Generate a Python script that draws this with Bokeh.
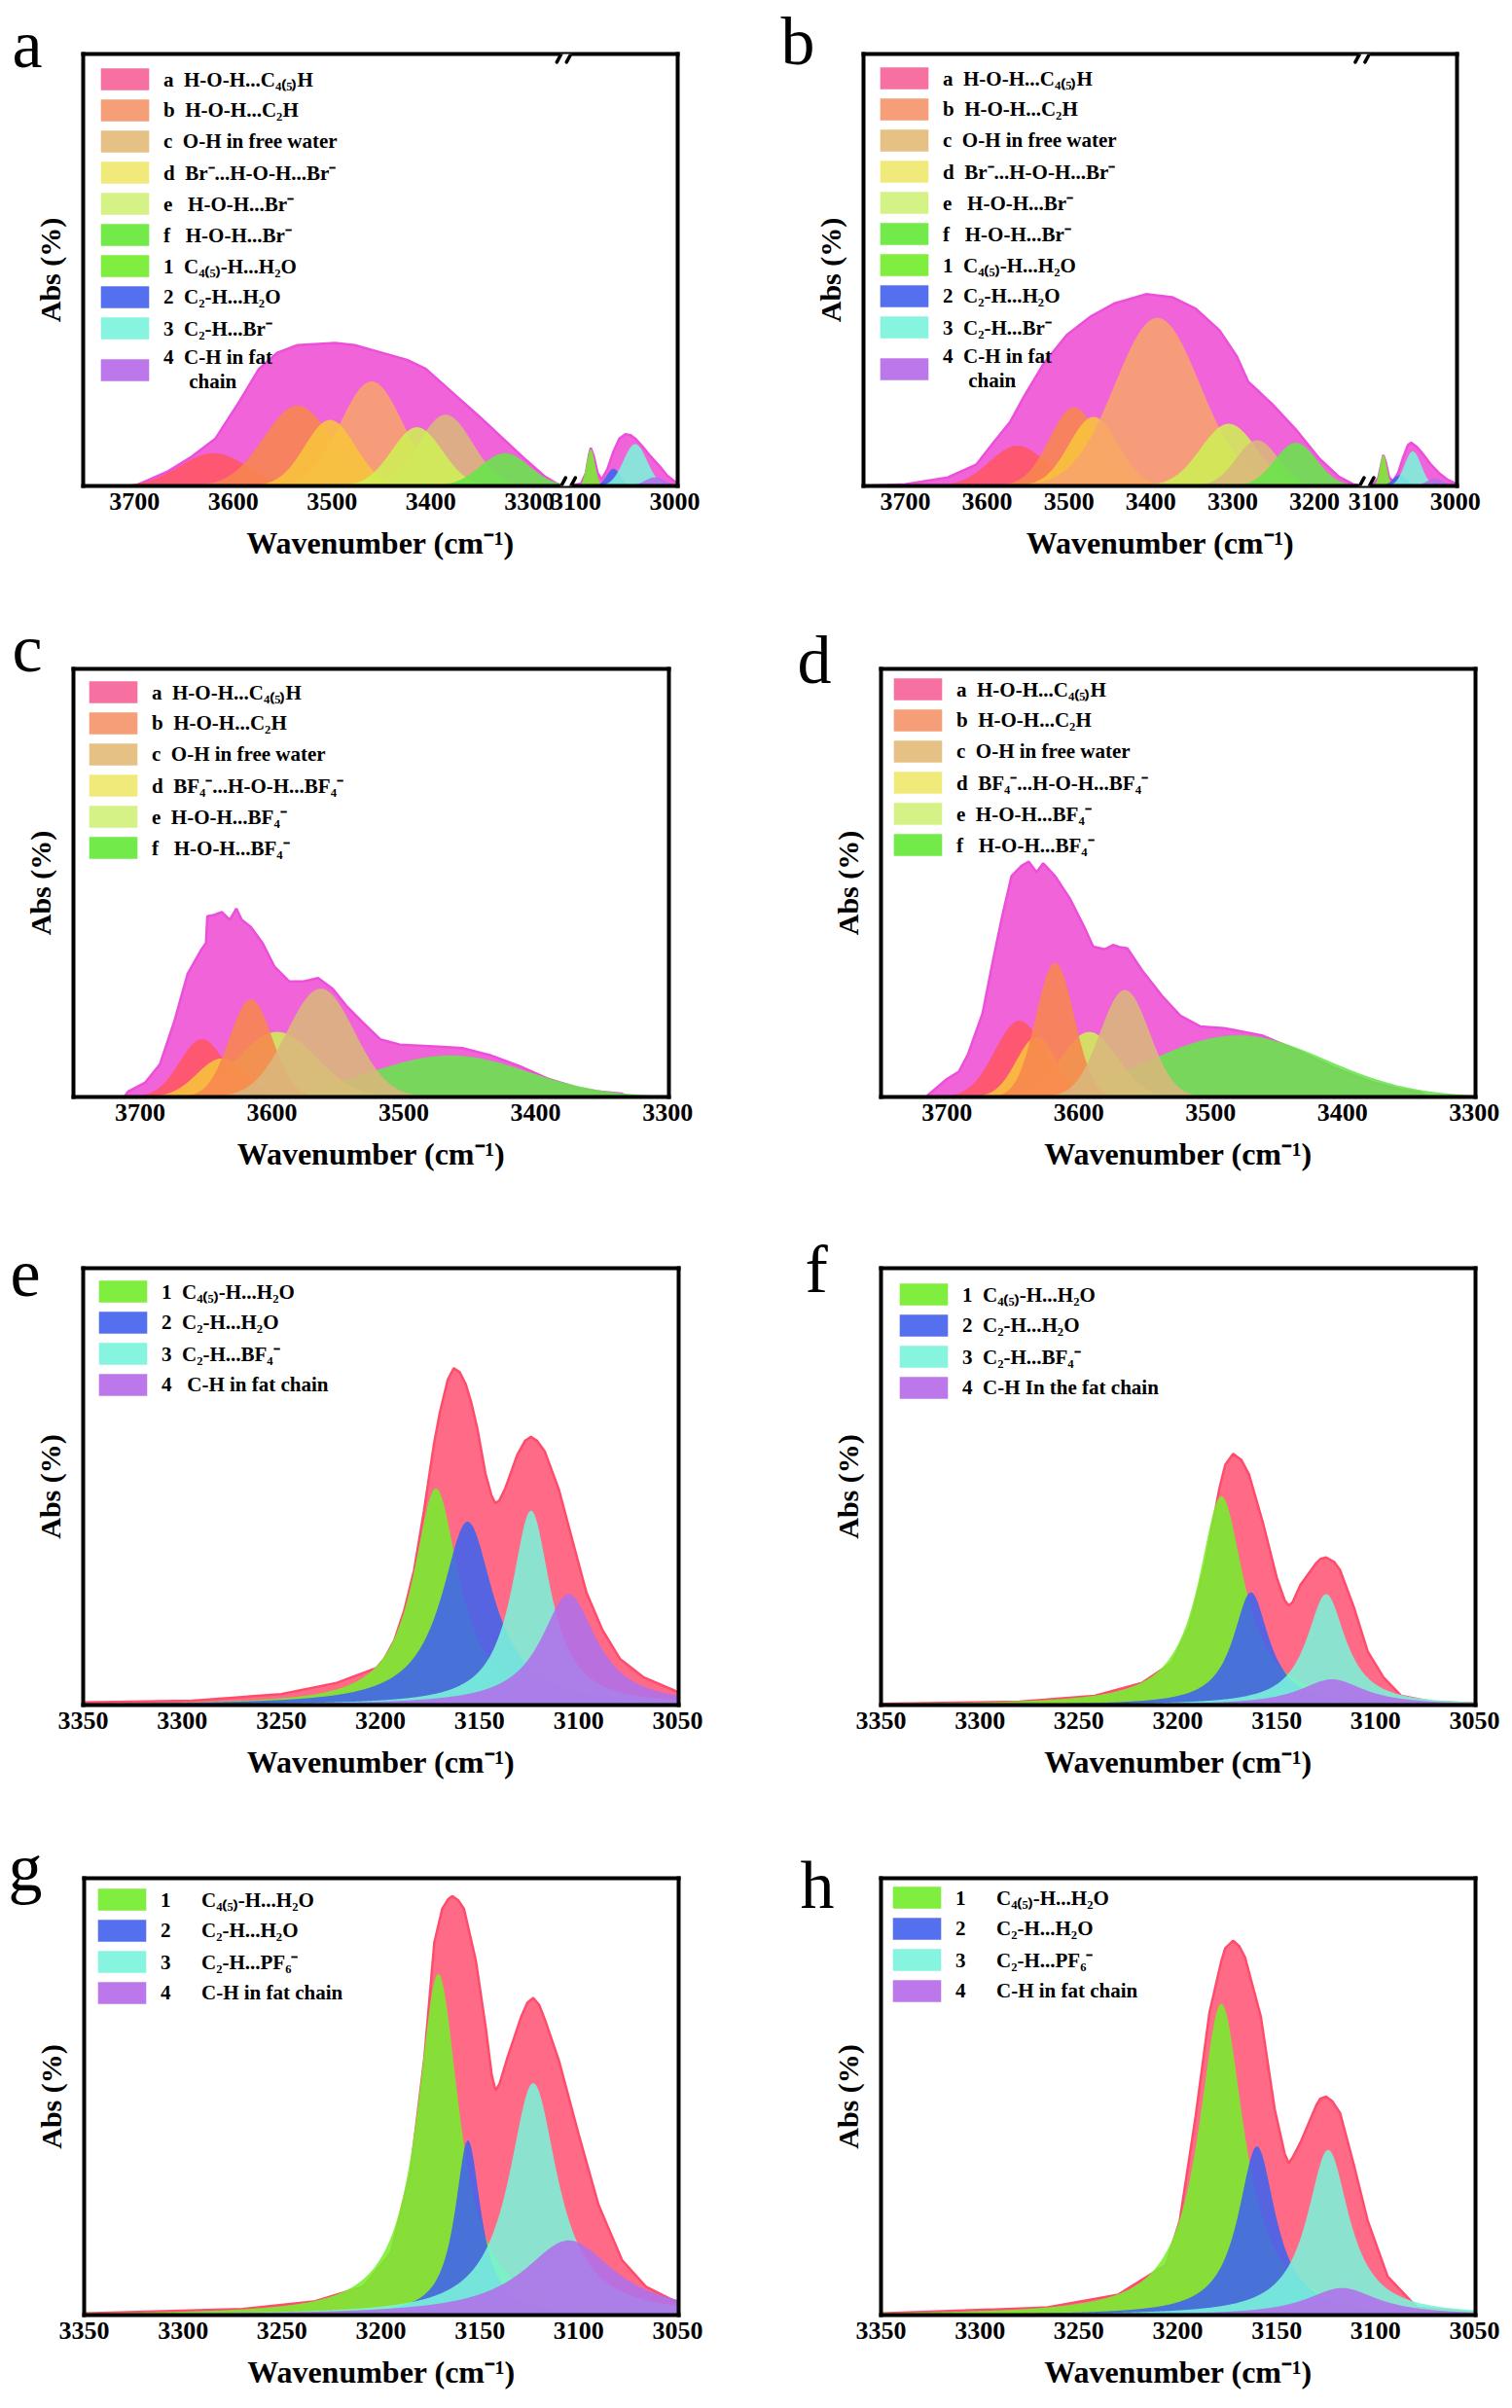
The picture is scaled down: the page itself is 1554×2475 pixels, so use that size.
import math
import numpy as np
from bokeh.plotting import figure
from bokeh.models import Range1d, FixedTicker, LinearAxis, Legend, LegendItem, Arrow
from bokeh.layouts import column, row
from bokeh.embed import file_html
from bokeh.resources import INLINE

# ======================= DATA =======================
# Heights are fractions of the plot height (Abs, arbitrary units).

# ---- panel a (broken axis 3752-3263 | 3110-2997) ----
A_ENV_W = [3752, 3700, 3690, 3666, 3642, 3618, 3594, 3574, 3555, 3535, 3497, 3477, 3458,
           3424, 3405, 3376, 3351, 3327, 3303, 3284, 3271, 3263]
A_ENV_Y = [0.0, 0.0, 0.01, 0.034, 0.068, 0.110, 0.195, 0.271, 0.309, 0.326, 0.331, 0.326,
           0.314, 0.292, 0.271, 0.212, 0.161, 0.110, 0.059, 0.021, 0.004, 0.0]
A_ENV2_W = [3110, 3095, 3090, 3087, 3085, 3082, 3078, 3074, 3068, 3062, 3056, 3050, 3045,
            3040, 3032, 3025, 3015, 3008, 2997]
A_ENV2_Y = [0.0, 0.005, 0.03, 0.07, 0.088, 0.07, 0.03, 0.015, 0.04, 0.08, 0.11, 0.12, 0.118,
            0.11, 0.09, 0.07, 0.045, 0.025, 0.005]
A_PEAK_HUE = ["red", "orange", "peach", "gold", "tan", "lime", "green", "g1", "blue", "aqua", "violet"]
A_PEAK_CENTER = [3620, 3535, 3460, 3502, 3385, 3414, 3325, 3085, 3062, 3040, 3020]
A_PEAK_HEIGHT = [0.076, 0.186, 0.242, 0.153, 0.165, 0.136, 0.076, 0.085, 0.04, 0.097, 0.02]
A_PEAK_HWHM = [40, 40, 37, 30, 32, 30, 29, 5, 8, 14, 12]

# ---- panel b (broken axis 3751-3139 | 3111-2998) ----
B_ENV_W = [3751, 3700, 3648, 3613, 3590, 3572, 3555, 3531, 3502, 3473, 3444, 3406, 3374,
           3345, 3316, 3295, 3281, 3266, 3252, 3223, 3194, 3170, 3153, 3139]
B_ENV_Y = [0.0, 0.004, 0.02, 0.05, 0.106, 0.148, 0.207, 0.283, 0.351, 0.393, 0.423, 0.444,
           0.437, 0.41, 0.36, 0.30, 0.241, 0.215, 0.19, 0.131, 0.063, 0.021, 0.004, 0.0]
B_ENV2_W = [3111, 3100, 3094, 3090, 3088, 3085, 3081, 3076, 3070, 3064, 3058, 3054, 3048,
            3040, 3030, 3020, 3010, 2998]
B_ENV2_Y = [0.0, 0.004, 0.02, 0.055, 0.072, 0.055, 0.02, 0.012, 0.03, 0.065, 0.095, 0.10,
            0.092, 0.075, 0.05, 0.03, 0.015, 0.004]
B_PEAK_HUE = ["red", "orange", "gold", "peach", "lime", "tan", "green", "g1", "blue", "aqua", "violet"]
B_PEAK_CENTER = [3563, 3494, 3470, 3392, 3305, 3270, 3223, 3088, 3068, 3052, 3025]
B_PEAK_HEIGHT = [0.093, 0.182, 0.16, 0.389, 0.144, 0.106, 0.10, 0.072, 0.025, 0.08, 0.017]
B_PEAK_HWHM = [40, 35, 35, 61, 40, 30, 30, 5, 10, 12, 12]

# ---- panel c ----
C_ENV_W = [3712, 3709, 3696, 3685, 3674, 3664, 3654, 3650, 3649, 3644, 3638, 3632, 3627,
           3623, 3616, 3607, 3598, 3587, 3576, 3565, 3554, 3543, 3532, 3518, 3503, 3477,
           3455, 3434, 3412, 3390, 3368, 3353, 3335, 3330]
C_ENV_Y = [0.0, 0.013, 0.034, 0.076, 0.177, 0.287, 0.342, 0.36, 0.422, 0.425, 0.432, 0.414,
           0.44, 0.414, 0.397, 0.359, 0.304, 0.27, 0.27, 0.278, 0.253, 0.211, 0.177, 0.135,
           0.122, 0.118, 0.114, 0.097, 0.072, 0.042, 0.021, 0.013, 0.008, 0.0]
C_PEAK_HUE = ["green", "lime", "red", "gold", "orange", "tan"]
C_PEAK_CENTER = [3465, 3596, 3653, 3638, 3616, 3563]
C_PEAK_HEIGHT = [0.097, 0.152, 0.135, 0.09, 0.228, 0.253]
C_PEAK_HWHM = [70, 35, 20, 22, 19, 30]

# ---- panel d ----
D_ENV_W = [3716, 3713, 3700, 3691, 3684, 3673, 3665, 3658, 3651, 3643, 3638, 3632, 3627,
           3618, 3607, 3596, 3589, 3580, 3574, 3569, 3563, 3552, 3537, 3523, 3508, 3490,
           3461, 3435, 3406, 3377, 3355, 3340, 3336]
D_ENV_Y = [0.0, 0.008, 0.042, 0.059, 0.10, 0.195, 0.32, 0.423, 0.516, 0.541, 0.55, 0.525,
           0.546, 0.516, 0.465, 0.398, 0.351, 0.345, 0.355, 0.35, 0.347, 0.296, 0.237, 0.19,
           0.165, 0.161, 0.144, 0.11, 0.068, 0.034, 0.017, 0.01, 0.0]
D_PEAK_HUE = ["green", "lime", "red", "gold", "orange", "tan"]
D_PEAK_CENTER = [3479, 3592, 3645, 3632, 3618, 3565]
D_PEAK_HEIGHT = [0.144, 0.152, 0.178, 0.14, 0.313, 0.25]
D_PEAK_HWHM = [78, 25, 22, 18, 17, 22]

# ---- panel e ----
E_ENV_W = [3350, 3295, 3250, 3222, 3202, 3198, 3193, 3188, 3183, 3178, 3173, 3170, 3166,
           3163, 3160, 3157, 3154, 3151, 3147, 3144, 3142, 3140, 3137, 3131, 3127, 3124,
           3121, 3117, 3110, 3103, 3096, 3088, 3079, 3067, 3052, 3050]
E_ENV_Y = [0.006, 0.01, 0.025, 0.051, 0.085, 0.106, 0.148, 0.216, 0.309, 0.445, 0.597, 0.67,
           0.745, 0.771, 0.762, 0.735, 0.69, 0.631, 0.53, 0.48, 0.462, 0.468, 0.496, 0.572,
           0.605, 0.614, 0.605, 0.58, 0.494, 0.375, 0.257, 0.172, 0.105, 0.063, 0.034, 0.03]
E_PEAK_HUE = ["g1", "blue", "aqua", "violet"]
E_PEAK_CENTER = [3172, 3156, 3124, 3105]
E_PEAK_HEIGHT = [0.496, 0.42, 0.445, 0.254]
E_PEAK_HWHM = [14, 16, 12, 17]

# ---- panel f ----
F_ENV_W = [3350, 3280, 3242, 3218, 3203, 3194, 3186, 3179, 3176, 3172, 3168, 3164, 3157,
           3150, 3146, 3144, 3142, 3138, 3130, 3128, 3125, 3121, 3118, 3111, 3104, 3096,
           3087, 3072, 3050]
F_ENV_Y = [0.003, 0.008, 0.021, 0.051, 0.097, 0.182, 0.325, 0.495, 0.55, 0.575, 0.562, 0.528,
           0.418, 0.292, 0.24, 0.228, 0.235, 0.275, 0.325, 0.334, 0.338, 0.328, 0.309, 0.224,
           0.123, 0.063, 0.021, 0.008, 0.004]
F_PEAK_HUE = ["g1", "blue", "aqua", "violet"]
F_PEAK_CENTER = [3178, 3163, 3125, 3122]
F_PEAK_HEIGHT = [0.478, 0.258, 0.254, 0.059]
F_PEAK_HWHM = [14, 11, 12, 20]

# ---- panel g ----
G_ENV_W = [3350, 3270, 3234, 3209, 3195, 3185, 3178, 3173, 3169, 3166, 3164, 3161, 3158,
           3152, 3147, 3144, 3142, 3140, 3136, 3129, 3126, 3123, 3120, 3117, 3110, 3100,
           3090, 3078, 3066, 3051, 3050]
G_ENV_Y = [0.004, 0.014, 0.031, 0.065, 0.142, 0.328, 0.59, 0.853, 0.93, 0.952, 0.959, 0.95,
           0.93, 0.811, 0.658, 0.55, 0.514, 0.53, 0.59, 0.684, 0.715, 0.726, 0.71, 0.675,
           0.582, 0.413, 0.252, 0.125, 0.065, 0.031, 0.03]
G_PEAK_HUE = ["g1", "blue", "aqua", "violet"]
G_PEAK_CENTER = [3171, 3156, 3123, 3105]
G_PEAK_HEIGHT = [0.781, 0.40, 0.531, 0.171]
G_PEAK_HWHM = [13, 8, 15, 28]

# ---- panel h ----
H_ENV_W = [3350, 3267, 3230, 3206, 3199, 3191, 3184, 3178, 3176, 3172, 3169, 3166, 3158,
           3151, 3146, 3144, 3142, 3138, 3130, 3128, 3125, 3122, 3118, 3111, 3104, 3094,
           3079, 3050]
H_ENV_Y = [0.004, 0.017, 0.047, 0.115, 0.216, 0.454, 0.692, 0.81, 0.84, 0.857, 0.845, 0.819,
           0.683, 0.471, 0.37, 0.348, 0.36, 0.395, 0.48, 0.495, 0.50, 0.49, 0.463, 0.344,
           0.216, 0.089, 0.017, 0.006]
H_PEAK_HUE = ["g1", "blue", "aqua", "violet"]
H_PEAK_CENTER = [3178, 3160, 3124, 3117]
H_PEAK_HEIGHT = [0.713, 0.386, 0.378, 0.062]
H_PEAK_HWHM = [14, 11.5, 13, 22]

# ---- tick labels ----
TICKS_A = [3700, 3600, 3500, 3400, 3300, 3100, 3000]
TICKS_B = [3700, 3600, 3500, 3400, 3300, 3200, 3100, 3000]
TICKS_CD = [3700, 3600, 3500, 3400, 3300]
TICKS_EH = [3350, 3300, 3250, 3200, 3150, 3100, 3050]

# ---- legend entries ----
LEG_KEYS_AB = ["a", "b", "c", "d", "e", "f", "1", "2", "3", "4"]
LEG_TEXT_AB = ["a  H-O-H...C₄₍₅₎H", "b  H-O-H...C₂H", "c  O-H in free water",
               "d  Br⁻...H-O-H...Br⁻", "e   H-O-H...Br⁻", "f   H-O-H...Br⁻",
               "1  C₄₍₅₎-H...H₂O", "2  C₂-H...H₂O", "3  C₂-H...Br⁻", "4  C-H in fat\n     chain"]
LEG_KEYS_CD = ["a", "b", "c", "d", "e", "f"]
LEG_TEXT_CD = ["a  H-O-H...C₄₍₅₎H", "b  H-O-H...C₂H", "c  O-H in free water",
               "d  BF₄⁻...H-O-H...BF₄⁻", "e  H-O-H...BF₄⁻", "f   H-O-H...BF₄⁻"]
LEG_KEYS_EH = ["1", "2", "3", "4"]
LEG_TEXT_E = ["1  C₄₍₅₎-H...H₂O", "2  C₂-H...H₂O", "3  C₂-H...BF₄⁻", "4   C-H in fat chain"]
LEG_TEXT_F = ["1  C₄₍₅₎-H...H₂O", "2  C₂-H...H₂O", "3  C₂-H...BF₄⁻", "4  C-H In the fat chain"]
LEG_TEXT_GH = ["1      C₄₍₅₎-H...H₂O", "2      C₂-H...H₂O", "3      C₂-H...PF₆⁻",
               "4      C-H in fat chain"]

# ======================= STYLE / LAYOUT =======================
SERIF = "Liberation Serif"
HUE = {"red": "#FF5562", "orange": "#F7864E", "peach": "#F7A46C", "gold": "#F8C43C",
       "tan": "#D9B77C", "lime": "#CFEF55", "green": "#66E64A", "g1": "#77EE2E",
       "blue": "#3F63EE", "aqua": "#7BF4DA", "violet": "#B070EA"}
LEG_COLOR = {"a": "#F770A2", "b": "#F59E78", "c": "#E6C186", "d": "#F0EA7A", "e": "#D4F286",
             "f": "#72EA4A", "1": "#80EE3E", "2": "#5470EE", "3": "#86F4DE", "4": "#BC78EA"}
ENV_MAG = ("#F163D8", "#EC4FDA")
ENV_RED = ("#FF6B86", "#FF4C6C")

# fig box (left, right, top, bottom) and frame box in page pixels
LAYOUT = {
    "a": dict(fig=(0, 777, 0, 618), frame=(85, 696, 50, 499), letter=(12, 63), lm=12),
    "b": dict(fig=(777, 1554, 0, 618), frame=(887, 1497, 55, 505), letter=(802, 65), lm=11),
    "c": dict(fig=(0, 777, 618, 1245), frame=(75, 687, 687, 1138), letter=(12, 689), lm=10),
    "d": dict(fig=(777, 1554, 618, 1245), frame=(905, 1516, 676, 1127), letter=(819, 690), lm=7),
    "e": dict(fig=(0, 777, 1245, 1866), frame=(85, 697, 1303, 1752), letter=(10, 1316), lm=10),
    "f": dict(fig=(777, 1554, 1245, 1866), frame=(905, 1516, 1302, 1752), letter=(827, 1326), lm=13),
    "g": dict(fig=(0, 777, 1866, 2475), frame=(86, 697, 1930, 2379), letter=(8, 1942), lm=8),
    "h": dict(fig=(777, 1554, 1866, 2475), frame=(905, 1516, 1930, 2379), letter=(822, 1960), lm=6),
}
AXIS = {
    "a": dict(x0=3752, x1=2997, brk=(3263, 3110)),
    "b": dict(x0=3751, x1=2998, brk=(3139, 3111)),
    "c": dict(x0=3750.5, x1=3299, brk=None),
    "d": dict(x0=3750, x1=3299, brk=None),
    "e": dict(x0=3350, x1=3049.5, brk=None),
    "f": dict(x0=3350, x1=3049.5, brk=None),
    "g": dict(x0=3350, x1=3049.5, brk=None),
    "h": dict(x0=3350, x1=3049.5, brk=None),
}
LETTER_SIZE = 70
LETTER_DESCENT = 0.216

LN2 = math.log(2.0)


def peak_curve(w, c, h, hw, shape):
    if shape == "gauss":
        return h * np.exp(-LN2 * ((w - c) / hw) ** 2)
    return h / (1.0 + ((w - c) / hw) ** 2)


def build(key, env_segs, hues, centers, heights, hwhms, shape, ticks, leg_keys, leg_texts, env_style):
    L = LAYOUT[key]
    A = AXIS[key]
    gl, gr, gt, gb = L["fig"]
    fl, fr, ft, fb = L["frame"]
    brk = A["brk"]
    off = (brk[0] - brk[1]) if brk else 0
    u0, u1 = A["x0"], A["x1"] + off
    lx, lb = L["letter"]
    p = figure(width=gr - gl, height=gb - gt, x_range=Range1d(u0, u1), y_range=Range1d(0, 1),
               output_backend="svg", toolbar_location=None,
               min_border_left=int(round(fl - gl)), min_border_right=int(round(gr - fr)),
               min_border_top=int(round(ft - gt)), min_border_bottom=int(round(gb - fb)))
    p.outline_line_color = None
    p.xgrid.grid_line_color = None
    p.ygrid.grid_line_color = None
    sx = (fr - fl) / float(u0 - u1)   # px per x unit
    sy = float(fb - ft)               # px per y unit

    # panel letter as a left-aligned title pulled down next to the frame corner
    p.title.text = key
    p.title.text_font = SERIF
    p.title.text_font_size = "%dpx" % LETTER_SIZE
    p.title.text_font_style = "normal"
    p.title.text_color = "black"
    p.title.align = "left"
    p.title.vertical_align = "bottom"
    p.title.offset = lx - fl
    p.title.standoff = -2 * ((lb - ft) + LETTER_DESCENT * LETTER_SIZE)

    def to_u(w, seg):
        return np.asarray(w, float) + (off if seg == 1 else 0)

    # envelope (measured spectrum)
    for W, Y, seg in env_segs:
        u = to_u(W, seg)
        p.varea(x=u, y1=0, y2=Y, fill_color=env_style[0], fill_alpha=1.0)
        p.line(u, Y, line_color=env_style[1], line_width=2.5)

    # fitted components
    for hue, c, h, hw in zip(hues, centers, heights, hwhms):
        if brk:
            seg = 0 if c > brk[0] else 1
            lo, hi = (brk[0], A["x0"]) if seg == 0 else (A["x1"], brk[1])
        else:
            seg = 0
            lo, hi = A["x1"], A["x0"]
        if shape == "gauss":
            lo, hi = max(lo, c - 3.5 * hw), min(hi, c + 3.5 * hw)
        w = np.linspace(lo, hi, 600)
        y = peak_curve(w, c, h, hw, shape)
        p.varea(x=to_u(w, seg), y1=0, y2=y, fill_color=HUE[hue], fill_alpha=0.88)

    # legend (swatch renderers sit outside the visible y range)
    items = []
    for k, t in zip(leg_keys, leg_texts):
        r = p.quad(left=[u0], right=[u0 - 1], bottom=[5], top=[6], fill_color=LEG_COLOR[k],
                   fill_alpha=1.0, line_color=None)
        items.append(LegendItem(label=t, renderers=[r]))
    leg = Legend(items=items, location="top_left", margin=L["lm"], padding=0, spacing=4,
                 glyph_width=62, glyph_height=28, label_standoff=9, label_height=28,
                 border_line_color=None, background_fill_alpha=0,
                 label_text_font=SERIF, label_text_font_style="bold",
                 label_text_font_size="21px", label_text_color="black")
    p.add_layout(leg)

    # x axis
    tick_u, overrides = [], {}
    for t in ticks:
        tu = t + off if (brk and t <= brk[1]) else t
        tick_u.append(tu)
        overrides[tu] = str(t)
    xa = p.xaxis[0]
    xa.ticker = FixedTicker(ticks=tick_u)
    xa.major_label_overrides = overrides
    xa.axis_label = "Wavenumber (cm⁻¹)"
    ya = p.yaxis[0]
    ya.ticker = FixedTicker(ticks=[])
    ya.axis_label = "Abs (%)"
    for ax in (xa, ya):
        ax.axis_line_width = 4
        ax.axis_line_color = "black"
        ax.axis_line_cap = "square"
        ax.major_tick_line_color = None
        ax.minor_tick_line_color = None
        ax.major_tick_out = 0
        ax.major_tick_in = 0
        ax.minor_tick_out = 0
        ax.major_label_text_font = SERIF
        ax.major_label_text_font_style = "bold"
        ax.major_label_text_font_size = "26px"
        ax.major_label_text_color = "black"
        ax.axis_label_text_font = SERIF
        ax.axis_label_text_font_style = "bold"
        ax.axis_label_text_color = "black"
    xa.major_label_standoff = 7
    xa.axis_label_text_font_size = "32px"
    xa.axis_label_standoff = 13
    ya.axis_label_text_font_size = "30px"
    ya.axis_label_standoff = 18
    for side in ("above", "right"):
        ax = LinearAxis(ticker=FixedTicker(ticks=[]), axis_line_width=4, axis_line_color="black",
                        axis_line_cap="square", major_tick_line_color=None,
                        minor_tick_line_color=None, major_tick_out=0, minor_tick_out=0,
                        major_label_text_font_size="0px")
        p.add_layout(ax, side)

    # axis-break marks
    if brk:
        ub = brk[0]

        def du(px):
            return -px / sx
        for yb in (0.0, 1.0):
            p.add_layout(Arrow(end=None, x_start=ub + du(-6), y_start=yb, x_end=ub + du(6), y_end=yb,
                               line_color="white", line_width=8))
            for cx in (-5, 5):
                p.add_layout(Arrow(end=None, x_start=ub + du(cx - 4.5), y_start=yb - 8.5 / sy,
                                   x_end=ub + du(cx + 4.5), y_end=yb + 8.5 / sy,
                                   line_color="black", line_width=3.5, line_cap="round"))
    return p


pa = build("a", [(A_ENV_W, A_ENV_Y, 0), (A_ENV2_W, A_ENV2_Y, 1)], A_PEAK_HUE, A_PEAK_CENTER,
           A_PEAK_HEIGHT, A_PEAK_HWHM, "gauss", TICKS_A, LEG_KEYS_AB, LEG_TEXT_AB, ENV_MAG)
pb = build("b", [(B_ENV_W, B_ENV_Y, 0), (B_ENV2_W, B_ENV2_Y, 1)], B_PEAK_HUE, B_PEAK_CENTER,
           B_PEAK_HEIGHT, B_PEAK_HWHM, "gauss", TICKS_B, LEG_KEYS_AB, LEG_TEXT_AB, ENV_MAG)
pc = build("c", [(C_ENV_W, C_ENV_Y, 0)], C_PEAK_HUE, C_PEAK_CENTER, C_PEAK_HEIGHT, C_PEAK_HWHM,
           "gauss", TICKS_CD, LEG_KEYS_CD, LEG_TEXT_CD, ENV_MAG)
pd_ = build("d", [(D_ENV_W, D_ENV_Y, 0)], D_PEAK_HUE, D_PEAK_CENTER, D_PEAK_HEIGHT, D_PEAK_HWHM,
            "gauss", TICKS_CD, LEG_KEYS_CD, LEG_TEXT_CD, ENV_MAG)
pe = build("e", [(E_ENV_W, E_ENV_Y, 0)], E_PEAK_HUE, E_PEAK_CENTER, E_PEAK_HEIGHT, E_PEAK_HWHM,
           "lorentz", TICKS_EH, LEG_KEYS_EH, LEG_TEXT_E, ENV_RED)
pf = build("f", [(F_ENV_W, F_ENV_Y, 0)], F_PEAK_HUE, F_PEAK_CENTER, F_PEAK_HEIGHT, F_PEAK_HWHM,
           "lorentz", TICKS_EH, LEG_KEYS_EH, LEG_TEXT_F, ENV_RED)
pg = build("g", [(G_ENV_W, G_ENV_Y, 0)], G_PEAK_HUE, G_PEAK_CENTER, G_PEAK_HEIGHT, G_PEAK_HWHM,
           "lorentz", TICKS_EH, LEG_KEYS_EH, LEG_TEXT_GH, ENV_RED)
ph = build("h", [(H_ENV_W, H_ENV_Y, 0)], H_PEAK_HUE, H_PEAK_CENTER, H_PEAK_HEIGHT, H_PEAK_HWHM,
           "lorentz", TICKS_EH, LEG_KEYS_EH, LEG_TEXT_GH, ENV_RED)

layout = column(row(pa, pb), row(pc, pd_), row(pe, pf), row(pg, ph))
open("out.html", "w").write(file_html(layout, INLINE))
